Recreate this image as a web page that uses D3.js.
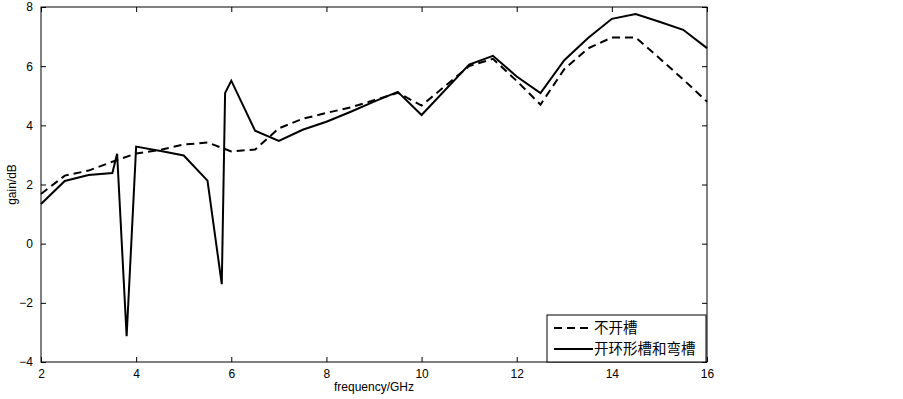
<!DOCTYPE html>
<html>
<head>
<meta charset="utf-8">
<script src="https://cdn.jsdelivr.net/npm/d3@7"></script>
<style>
  body { margin: 0; background: #fff; }
  text { font-family: "Liberation Sans", Arial, sans-serif; fill: #000; }
</style>
</head>
<body>
<div id="chart"></div>
<script>
// frequency points and gain values
var freqNoSlot = [2, 2.5, 3, 3.5, 4, 4.5, 5, 5.5, 6, 6.5, 7, 7.5, 8, 8.5, 9, 9.5, 10, 11, 11.5, 12, 12.5, 13, 13.5, 14, 14.5, 15, 15.5, 16];
var gainNoSlot = [1.68, 2.3, 2.47, 2.77, 3.05, 3.17, 3.35, 3.42, 3.12, 3.18, 3.9, 4.22, 4.42, 4.6, 4.85, 5.1, 4.67, 6.0, 6.25, 5.5, 4.7, 5.9, 6.6, 6.97, 6.97, 6.27, 5.55, 4.8];

var freqSlot = [2, 2.5, 3, 3.5, 3.6, 3.8, 4, 4.6, 5, 5.5, 5.8, 5.87, 6, 6.5, 7, 7.5, 8, 8.5, 9, 9.5, 10, 11, 11.5, 12, 12.5, 13, 13.5, 14, 14.5, 15, 15.5, 16];
var gainSlot = [1.34, 2.12, 2.32, 2.39, 3.04, -3.13, 3.28, 3.11, 2.98, 2.13, -1.37, 5.09, 5.51, 3.82, 3.47, 3.85, 4.12, 4.45, 4.8, 5.13, 4.35, 6.05, 6.35, 5.65, 5.09, 6.2, 6.95, 7.6, 7.76, 7.5, 7.23, 6.61];

var xTicks = [2, 4, 6, 8, 10, 12, 14, 16];
var yTicks = [-4, -2, 0, 2, 4, 6, 8];
var legendNames = ["不开槽", "开环形槽和弯槽"];

var margin = {top: 7, right: 196, bottom: 37, left: 41},
  width = 903 - margin.left - margin.right,
  height = 399 - margin.top - margin.bottom;

var svg = d3.select("#chart").append("svg")
  .attr("width", 903)
  .attr("height", 399);
svg.append("rect").attr("width", 903).attr("height", 399).attr("fill", "#fff");

var g = svg.append("g")
  .attr("transform", "translate(" + margin.left + "," + margin.top + ")");

var x = d3.scaleLinear().domain([2, 16]).range([0, width]);
var y = d3.scaleLinear().domain([-4, 8]).range([height, 0]);

// matlab style box with inward ticks on all four sides
function styleAxis(sel) {
  sel.select(".domain").remove();
  sel.selectAll("line").attr("stroke", "#000");
  sel.selectAll("text").style("font-size", "12px");
}

g.append("g")
  .attr("transform", "translate(0," + height + ")")
  .call(d3.axisBottom(x).tickValues(xTicks).tickSizeInner(-5).tickPadding(7).tickFormat(d3.format("d")))
  .call(styleAxis);
g.append("g")
  .call(d3.axisTop(x).tickValues(xTicks).tickSizeInner(-5).tickFormat(""))
  .call(styleAxis);
g.append("g")
  .call(d3.axisLeft(y).tickValues(yTicks).tickSizeInner(-5).tickPadding(8).tickFormat(d3.format("d")))
  .call(styleAxis);
g.append("g")
  .attr("transform", "translate(" + width + ",0)")
  .call(d3.axisRight(y).tickValues(yTicks).tickSizeInner(-5).tickFormat(""))
  .call(styleAxis);

g.append("rect")
  .attr("width", width)
  .attr("height", height)
  .attr("fill", "none")
  .attr("stroke", "#000")
  .attr("stroke-width", 1);

var line = d3.line()
  .x(function(d) { return x(d[0]); })
  .y(function(d) { return y(d[1]); });

g.append("path")
  .datum(d3.zip(freqNoSlot, gainNoSlot))
  .attr("fill", "none")
  .attr("stroke", "#000")
  .attr("stroke-width", 2)
  .attr("stroke-dasharray", "8,5")
  .attr("d", line);

g.append("path")
  .datum(d3.zip(freqSlot, gainSlot))
  .attr("fill", "none")
  .attr("stroke", "#000")
  .attr("stroke-width", 2)
  .attr("stroke-linejoin", "miter")
  .attr("d", line);

// axis titles
svg.append("text")
  .attr("x", margin.left + width / 2)
  .attr("y", 391)
  .attr("text-anchor", "middle")
  .style("font-size", "12px")
  .text("frequency/GHz");

svg.append("text")
  .attr("transform", "translate(16," + (margin.top + height / 2) + ") rotate(-90)")
  .attr("text-anchor", "middle")
  .style("font-size", "12px")
  .text("gain/dB");

// legend
var legend = svg.append("g")
  .attr("transform", "translate(547,315)");
legend.append("rect")
  .attr("width", 159)
  .attr("height", 47)
  .attr("fill", "#fff")
  .attr("stroke", "#000");

legendNames.forEach(function(name, i) {
  legend.append("line")
    .attr("x1", 7)
    .attr("x2", 46)
    .attr("y1", 13 + i * 21)
    .attr("y2", 13 + i * 21)
    .attr("stroke", "#000")
    .attr("stroke-width", 2)
    .attr("stroke-dasharray", i == 0 ? "8,5" : null);
  legend.append("text")
    .attr("x", 47)
    .attr("y", 18 + i * 21)
    .style("font-size", "14.5px")
    .style("font-family", "'Noto Sans CJK SC', sans-serif")
    .text(name);
});
</script>
</body>
</html>
